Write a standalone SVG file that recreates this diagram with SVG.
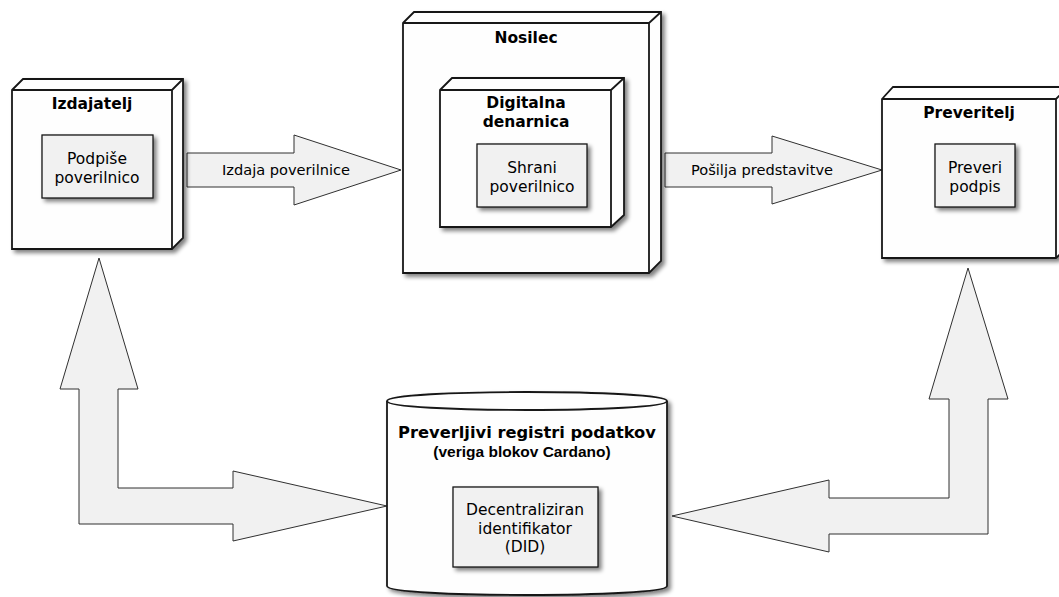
<svg xmlns="http://www.w3.org/2000/svg" width="1059" height="597" viewBox="0 0 1059 597">
<defs>
<filter id="sh" x="-10%" y="-10%" width="130%" height="130%">
<feGaussianBlur in="SourceAlpha" stdDeviation="2"/>
<feOffset dx="3" dy="3" result="b"/>
<feComponentTransfer><feFuncA type="linear" slope="0.5"/></feComponentTransfer>
<feMerge><feMergeNode/><feMergeNode in="SourceGraphic"/></feMerge>
</filter>
<style>
.node{fill:#FEFEFE;stroke:#181818;stroke-width:1.8;filter:url(#sh)}
.box{fill:#F1F1F1;stroke:#181818;stroke-width:1.3;filter:url(#sh)}
.arr{fill:#F1F1F1;stroke:#303030;stroke-width:1}
.t{font-family:"DejaVu Sans",sans-serif;font-weight:bold;font-size:15.5px;fill:#000;text-anchor:middle}
.c{font-family:"DejaVu Sans",sans-serif;font-size:15.5px;fill:#000;text-anchor:middle}
.l{font-family:"DejaVu Sans",sans-serif;font-size:14.6px;fill:#000;text-anchor:middle}
.s{font-family:"Liberation Sans",Arial,sans-serif;font-weight:bold;font-size:15.5px;fill:#000;text-anchor:middle}
</style>
</defs>
<rect width="1059" height="597" fill="#FFFFFF"/>

<g id="connectors">
<polygon class="arr" points="187,153 294,153 294,135 401,170 294,205 294,187 187,187"/>
<text class="l" x="286" y="175">Izdaja poverilnice</text>
<polygon class="arr" points="665,153 772,153 772,136 882,170 772,204 772,187 665,187"/>
<text class="l" x="762" y="175">Pošilja predstavitve</text>
<polygon class="arr" points="99,258 138,389 118,389 118,488 233,488 233,471 387,506 233,541 233,524 79,524 79,389 60,389"/>
<polygon class="arr" points="968,268 1008,399 988,399 988,534 829,534 829,552 672,516 829,480 829,498 949,498 949,399 929,399"/>
</g>

<g id="izdajatelj">
<path class="node" d="M12,90 L23,79 L183,79 L183,238 L172,249 L12,249 Z"/>
<path d="M12,90 L172,90 L183,79 M172,90 L172,249" fill="none" stroke="#181818" stroke-width="1.8"/>
<text class="t" x="92" y="109">Izdajatelj</text>
<rect class="box" x="42" y="135" width="111" height="63"/>
<text class="c" x="97" y="164">Podpiše</text>
<text class="c" x="97" y="183">poverilnico</text>
</g>

<g id="nosilec">
<path class="node" d="M403,23 L414,12 L661,12 L661,261 L649,273 L403,273 Z"/>
<path d="M403,23 L649,23 L661,12 M649,23 L649,273" fill="none" stroke="#181818" stroke-width="1.8"/>
<text class="t" x="526" y="43">Nosilec</text>
</g>

<g id="digitalna">
<path class="node" d="M440,90 L452,78 L624,78 L624,215 L611,227 L440,227 Z"/>
<path d="M440,90 L611,90 L624,78 M611,90 L611,227" fill="none" stroke="#181818" stroke-width="1.8"/>
<text class="t" x="526" y="108">Digitalna</text>
<text class="t" x="526" y="127">denarnica</text>
<rect class="box" x="477" y="144" width="110" height="63"/>
<text class="c" x="532" y="173">Shrani</text>
<text class="c" x="532" y="192">poverilnico</text>
</g>

<g id="preveritelj">
<path class="node" d="M882,99 L893,87 L1068,87 L1068,247 L1056,258 L882,258 Z"/>
<path d="M882,99 L1056,99 L1068,87 M1056,99 L1056,258" fill="none" stroke="#181818" stroke-width="1.8"/>
<text class="t" x="969" y="118">Preveritelj</text>
<rect class="box" x="935" y="144" width="80" height="63"/>
<text class="c" x="975" y="173">Preveri</text>
<text class="c" x="975" y="192">podpis</text>
</g>

<g id="registri">
<path class="node" d="M387,401 C387,389 667,389 667,401 L667,586 C667,598 387,598 387,586 Z"/>
<path d="M387,401 C387,413 667,413 667,401" fill="none" stroke="#181818" stroke-width="1.8"/>
<text class="t" x="527" y="438" style="font-size:16.3px">Preverljivi registri podatkov</text>
<text class="s" x="522" y="457">(veriga blokov Cardano)</text>
<rect class="box" x="453" y="487" width="145" height="80"/>
<text class="c" x="525" y="515">Decentraliziran</text>
<text class="c" x="525" y="534">identifikator</text>
<text class="c" x="525" y="552">(DID)</text>
</g>
</svg>
